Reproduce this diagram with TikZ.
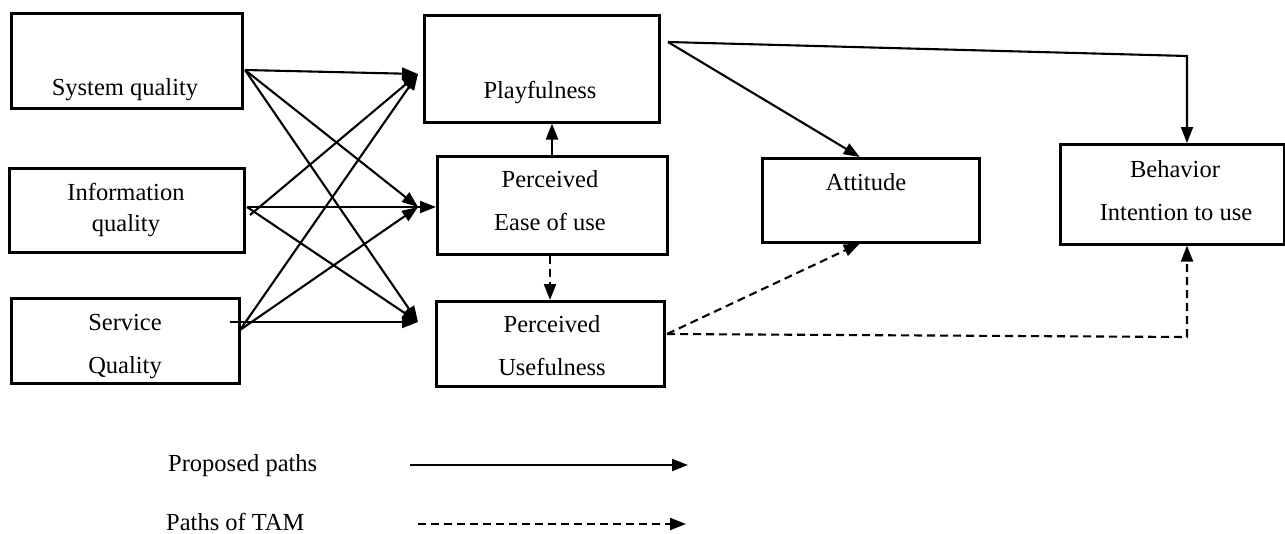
\documentclass[tikz,border=0pt]{standalone}
\usepackage{fontspec}
\setmainfont{Liberation Serif}
\usetikzlibrary{arrows.meta,calc}
\begin{document}
\begin{tikzpicture}[x=1pt,y=-1pt,
  box/.style={draw, line width=2.5pt, inner sep=0pt, anchor=north west},
  lbl/.style={anchor=base, inner sep=0pt, font=\fontsize{24.5}{29}\selectfont},
  path/.style={line width=2.1pt, -{Triangle[length=16pt,width=12pt]}},
  tam/.style={path, dash pattern=on 8pt off 5pt}]
\useasboundingbox (0,0) rectangle (1285,533);

% construct boxes
\node[box, minimum width=231pt, minimum height=95pt] (sys)  at (10,12)   {};
\node[box, minimum width=235pt, minimum height=84pt] (info) at (8,167)   {};
\node[box, minimum width=228pt, minimum height=85pt] (serv) at (10,297)  {};
\node[box, minimum width=235pt, minimum height=107pt] (play) at (423,14) {};
\node[box, minimum width=230pt, minimum height=98pt] (peou) at (436,155) {};
\node[box, minimum width=228pt, minimum height=85pt] (pu)   at (435,300) {};
\node[box, minimum width=217pt, minimum height=84pt] (att)  at (761,157) {};
\node[box, minimum width=224pt, minimum height=100pt] (beh) at (1059,143) {};

% box labels
\node[lbl] (tsys)   at (125,95)  {System quality};
\node[lbl] (tinfo1) at (126,200) {Information};
\node[lbl] (tinfo2) at (126,231) {quality};
\node[lbl] (tserv1) at (125,330) {Service};
\node[lbl] (tserv2) at (125,373) {Quality};
\node[lbl] (tplay)  at (540,98)  {Playfulness};
\node[lbl] (tpeou1) at (550,187) {Perceived};
\node[lbl] (tpeou2) at (550,230) {Ease of use};
\node[lbl] (tpu1)   at (552,332) {Perceived};
\node[lbl] (tpu2)   at (552,375) {Usefulness};
\node[lbl] (tatt)   at (866,190) {Attitude};
\node[lbl] (tbeh1)  at (1175,177) {Behavior};
\node[lbl] (tbeh2)  at (1176,220) {Intention to use};

% connector end points
\coordinate (sysout)  at (245,70);
\coordinate (infoout) at (247,207);
\coordinate (infoup)  at (250,215);
\coordinate (servout) at (230,322);
\coordinate (servup)  at (240,330);
\coordinate (playin)  at (418,74);
\coordinate (peouin)  at (418,207);
\coordinate (puin)    at (418,322);
\coordinate (playout) at (668,42);
\coordinate (bend)    at (1187,56);
\coordinate (puout)   at (667,334);
\coordinate (corner)  at (1187,337);

% quality constructs to the three perceptions
\draw[path] (sysout) -- (playin);
\draw[path] (sysout) -- (peouin);
\draw[path] (sysout) -- (puin);
\draw[path] (infoup) -- (playin);
\draw[path] (infoout) -- (peou.west |- infoout);
\draw[path] (infoout) -- (puin);
\draw[path] (servup) -- (playin);
\draw[path] (servup) -- (peouin);
\draw[path] (servout) -- (puin);

% proposed paths
\draw[path] (peou.north -| 552,0) -- (play.south -| 552,0);
\draw[path] (playout) -- ($(att.north)+(-11,0)$);
\draw[path] (playout) -- (bend) -- (beh.north -| bend);

% TAM paths
\draw[tam] (peou.south -| 550,0) -- (pu.north -| 550,0);
\draw[tam] (puout) -- ($(att.south)+(-11,0)$);
\draw[tam] (puout) -- (corner) -- (beh.south -| corner);

% legend
\node[lbl, anchor=base west] (lgp) at (168,471) {Proposed paths};
\node[lbl, anchor=base west] (lgt) at (166,530) {Paths of TAM};
\coordinate (lpa) at (410,465);
\coordinate (lpb) at (688,465);
\coordinate (lta) at (418,524);
\coordinate (ltb) at (686,524);
\draw[path] (lpa) -- (lpb);
\draw[tam] (lta) -- (ltb);
\end{tikzpicture}
\end{document}
